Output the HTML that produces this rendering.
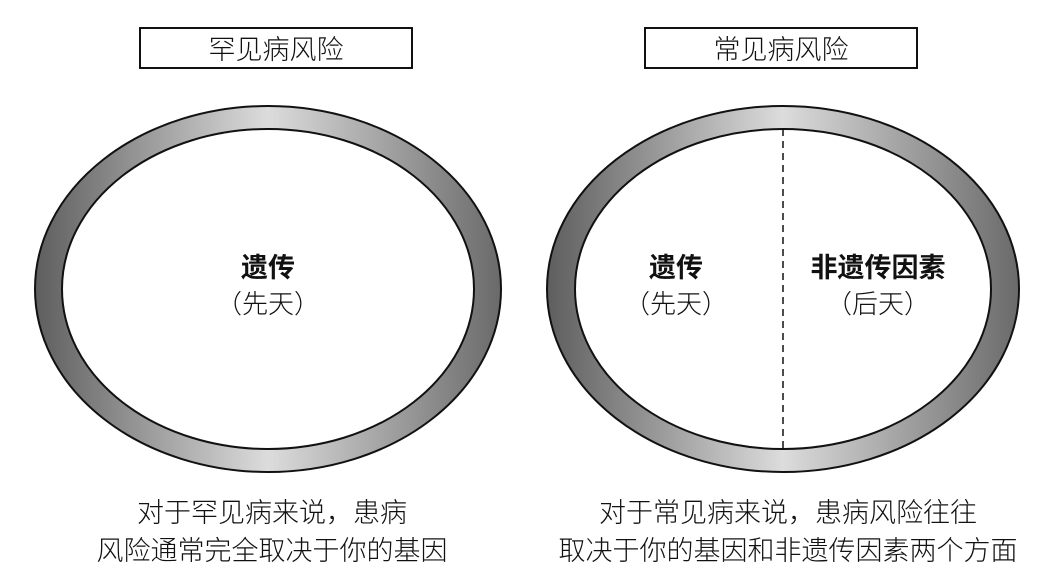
<!DOCTYPE html>
<html><head><meta charset="utf-8"><style>
body{margin:0;background:#fff;}
svg text{font-family:"Liberation Sans","Noto Sans CJK SC",sans-serif;fill:#111;}
</style></head><body>
<svg width="1060" height="578" viewBox="0 0 1060 578">
<defs>
<linearGradient id="g" x1="0" x2="1" y1="0" y2="0">
<stop offset="0" stop-color="#5e5e5e"/>
<stop offset="0.5" stop-color="#dcdcdc"/>
<stop offset="1" stop-color="#6a6a6a"/>
</linearGradient>
</defs>
<rect x="0" y="0" width="1060" height="578" fill="#fff"/>
<rect x="140" y="28" width="272" height="40" fill="#fff" stroke="#111" stroke-width="2"/>
<text x="276" y="59" font-size="27" font-weight="300" text-anchor="middle">罕见病风险</text>
<rect x="645" y="28" width="272" height="40" fill="#fff" stroke="#111" stroke-width="2"/>
<text x="781" y="59" font-size="27" font-weight="300" text-anchor="middle">常见病风险</text>

<ellipse cx="268" cy="289" rx="233" ry="183" fill="url(#g)" stroke="#111" stroke-width="2"/>
<ellipse cx="268" cy="289" rx="206" ry="160" fill="#fff" stroke="#111" stroke-width="2"/>
<text x="268" y="277" font-size="27" font-weight="bold" text-anchor="middle">遗传</text>
<text x="268" y="313" font-size="26" font-weight="300" text-anchor="middle">（先天）</text>

<ellipse cx="783" cy="289" rx="236" ry="183" fill="url(#g)" stroke="#111" stroke-width="2"/>
<ellipse cx="783" cy="289" rx="208" ry="160" fill="#fff" stroke="#111" stroke-width="2"/>
<line x1="783" y1="129" x2="783" y2="449" stroke="#111" stroke-width="1.5" stroke-dasharray="7,5"/>
<text x="676" y="277" font-size="27" font-weight="bold" text-anchor="middle">遗传</text>
<text x="676" y="313" font-size="26" font-weight="300" text-anchor="middle">（先天）</text>
<text x="878" y="277" font-size="27" font-weight="bold" text-anchor="middle">非遗传因素</text>
<text x="878" y="313" font-size="26" font-weight="300" text-anchor="middle">（后天）</text>

<text x="272" y="522" font-size="27" font-weight="300" text-anchor="middle">对于罕见病来说，患病</text>
<text x="272" y="560" font-size="27" font-weight="300" text-anchor="middle">风险通常完全取决于你的基因</text>
<text x="788" y="522" font-size="27" font-weight="300" text-anchor="middle">对于常见病来说，患病风险往往</text>
<text x="788" y="560" font-size="27" font-weight="300" text-anchor="middle">取决于你的基因和非遗传因素两个方面</text>
</svg>
</body></html>
